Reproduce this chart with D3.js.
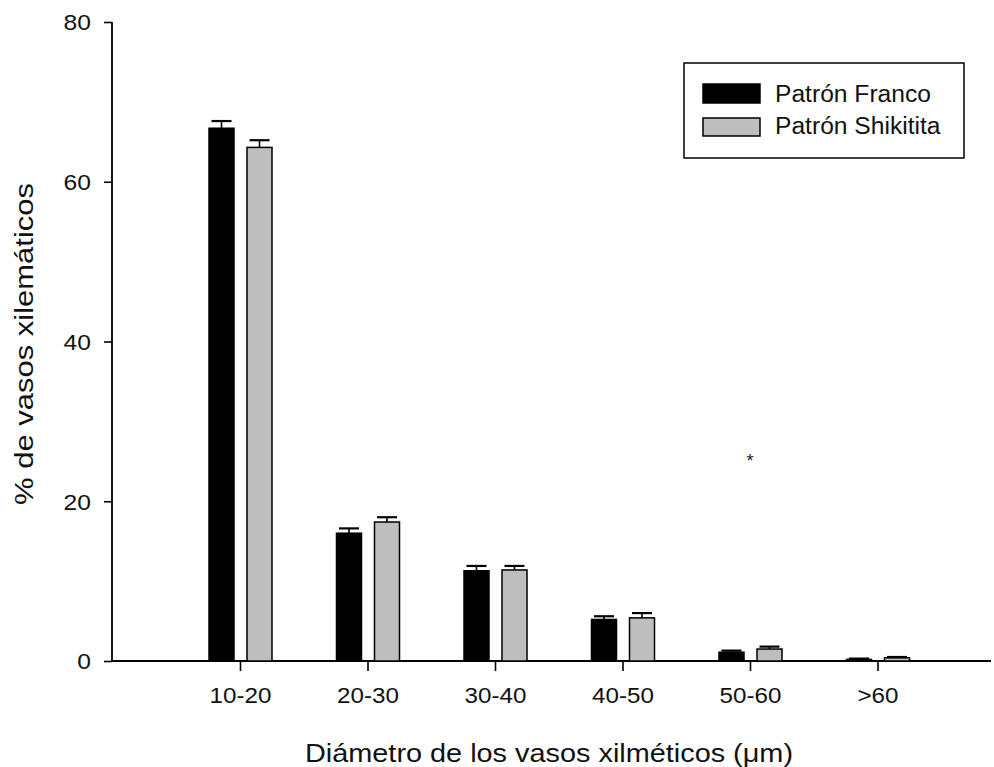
<!DOCTYPE html>
<html><head><meta charset="utf-8">
<script src="https://cdn.jsdelivr.net/npm/d3@7"></script>
<style>body{margin:0;background:#fff}svg{display:block;font-family:"Liberation Sans",Arial,sans-serif}</style>
</head><body><svg id="c" width="994" height="767"></svg>
<script>
const categories = ["10-20","20-30","30-40","40-50","50-60",">60"];
const franco = [66.7, 16.0, 11.3, 5.2, 1.1, 0.2];
const francoErr = [0.9, 0.6, 0.6, 0.4, 0.2, 0.1];
const shikitita = [64.3, 17.4, 11.4, 5.4, 1.5, 0.4];
const shikititaErr = [0.9, 0.6, 0.5, 0.6, 0.3, 0.1];
const yTicks = [0, 20, 40, 60, 80];
const seriesNames = ["Patrón Franco", "Patrón Shikitita"];
const seriesColors = ["#000000", "#bebebe"];

const svg = d3.select("#c");
const x = d3.scaleLinear().domain([0, categories.length - 1]).range([240, 877.5]);
const y = d3.scaleLinear().domain([0, 80]).range([661, 22]);
const xLeft = 112, xRight = 991;

function stretch(sel, f) {
  sel.each(function () {
    const w = this.getComputedTextLength();
    d3.select(this).attr("textLength", w * f).attr("lengthAdjust", "spacingAndGlyphs");
  });
}

// axes
const yAxis = d3.axisLeft(y).tickValues(yTicks).tickSize(8).tickPadding(13);
const gy = svg.append("g").attr("transform", `translate(${xLeft},0)`).call(yAxis);
gy.select(".domain").remove();
gy.selectAll("line").attr("stroke", "#000").attr("stroke-width", 1.6);
gy.selectAll("text").attr("font-size", 22).attr("fill", "#111").attr("dy", "0.36em");
stretch(gy.selectAll("text"), 1.12);
svg.append("line").attr("x1", xLeft).attr("x2", xLeft).attr("y1", y(80)).attr("y2", y(0))
  .attr("stroke", "#000").attr("stroke-width", 1.8);

const xAxis = d3.axisBottom(x).tickValues(d3.range(categories.length))
  .tickFormat(i => categories[i]).tickSize(10).tickPadding(16);
const gx = svg.append("g").attr("transform", `translate(0,${y(0)})`).call(xAxis);
gx.select(".domain").remove();
gx.selectAll("line").attr("stroke", "#000").attr("stroke-width", 1.6);
gx.selectAll("text").attr("font-size", 22).attr("fill", "#111");
stretch(gx.selectAll("text"), 1.1);
svg.append("line").attr("x1", xLeft).attr("x2", xRight).attr("y1", y(0)).attr("y2", y(0))
  .attr("stroke", "#000").attr("stroke-width", 1.8);

// bars
const barW = 25;
const offsets = [-31, 7];
[[franco, francoErr], [shikitita, shikititaErr]].forEach(([vals, errs], s) => {
  const g = svg.append("g");
  g.selectAll("rect").data(vals).join("rect")
    .attr("x", (d, i) => x(i) + offsets[s])
    .attr("y", d => y(d))
    .attr("width", barW)
    .attr("height", d => y(0) - y(d))
    .attr("fill", seriesColors[s])
    .attr("stroke", "#000").attr("stroke-width", 1.5);
  vals.forEach((d, i) => {
    const cx = x(i) + offsets[s] + barW / 2;
    g.append("line").attr("x1", cx).attr("x2", cx).attr("y1", y(d)).attr("y2", y(d + errs[i]))
      .attr("stroke", "#000").attr("stroke-width", 1.6);
    g.append("line").attr("x1", cx - 10).attr("x2", cx + 10).attr("y1", y(d + errs[i])).attr("y2", y(d + errs[i]))
      .attr("stroke", "#000").attr("stroke-width", 2.2);
  });
});

// asterisk
svg.append("text").attr("x", x(4)).attr("y", 467).attr("text-anchor", "middle")
  .attr("font-size", 18).attr("fill", "#222").text("*");

// legend
svg.append("rect").attr("x", 684).attr("y", 63).attr("width", 280).attr("height", 95)
  .attr("fill", "#fff").attr("stroke", "#000").attr("stroke-width", 1.5);
seriesNames.forEach((n, k) => {
  svg.append("rect").attr("x", 703).attr("y", [84, 118][k]).attr("width", 57).attr("height", [19, 18][k])
    .attr("fill", seriesColors[k]).attr("stroke", "#000").attr("stroke-width", 1.5);
  const t = svg.append("text").attr("x", 775).attr("y", [102, 134][k]).attr("font-size", 23)
    .attr("fill", "#111").text(n);
  stretch(t, 1.07);
});

// titles
svg.append("text").attr("transform", `translate(33,344) rotate(-90)`)
  .attr("text-anchor", "middle").attr("font-size", 25).attr("fill", "#111")
  .attr("textLength", 322).attr("lengthAdjust", "spacingAndGlyphs")
  .text("% de vasos xilemáticos");
svg.append("text").attr("x", 549).attr("y", 762).attr("text-anchor", "middle")
  .attr("font-size", 25).attr("fill", "#111")
  .attr("textLength", 488).attr("lengthAdjust", "spacingAndGlyphs")
  .text("Diámetro de los vasos xilméticos (μm)");
</script></body></html>
